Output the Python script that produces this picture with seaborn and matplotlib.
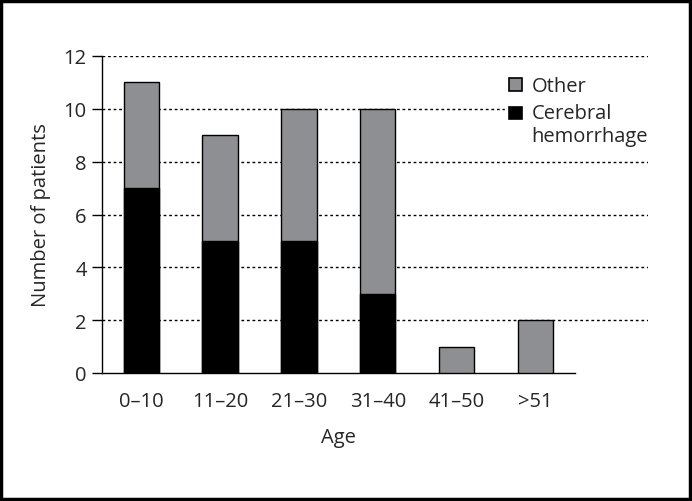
import matplotlib
matplotlib.use("Agg")
import matplotlib.pyplot as plt
import seaborn as sns
import pandas as pd
from matplotlib.patches import Patch, Rectangle
from matplotlib.legend_handler import HandlerPatch
from matplotlib.ticker import FixedLocator, NullFormatter, FixedFormatter

ages = ["0–10", "11–20", "21–30", "31–40", "41–50", ">51"]
cerebral = [7, 5, 5, 3, 0, 0]
other = [4, 4, 5, 7, 1, 2]
yticks = [0, 2, 4, 6, 8, 10, 12]

sns.set_style("white")
plt.rcParams["font.family"] = ["Open Sans", "DejaVu Sans"]
FS = 14.5

total = [c + o for c, o in zip(cerebral, other)]
df = pd.DataFrame({"Age": ages, "Cerebral": cerebral, "Total": total})

fig = plt.figure(figsize=(6.92, 5.02), dpi=100)
ax = fig.add_axes([102 / 692, 1 - 374 / 502, (648 - 102) / 692, (374 - 57) / 502])

gray = "#8e8f92"
sns.barplot(data=df, x="Age", y="Total", color=gray, edgecolor="black",
            linewidth=1.0, width=0.45, ax=ax, saturation=1, zorder=3)
sns.barplot(data=df[df["Cerebral"] > 0], x="Age", y="Cerebral", color="black",
            edgecolor="black", linewidth=1.0, width=0.45, ax=ax, saturation=1,
            order=ages, zorder=4)

ax.set_ylim(0, 12)
ax.set_xlim(-0.5, 6.43)
ax.set_yticks(yticks)
ax.set_yticklabels([str(t) for t in yticks], fontsize=FS)
for t in yticks[1:]:
    ax.axhline(t, color="black", linestyle=(0, (2, 2)), linewidth=1.0, zorder=1)

# x ticks at boundaries, labels at centres
ax.xaxis.set_major_locator(FixedLocator([i - 0.5 for i in range(len(ages) + 1)]))
ax.xaxis.set_major_formatter(NullFormatter())
ax.xaxis.set_minor_locator(FixedLocator(list(range(len(ages)))))
ax.xaxis.set_minor_formatter(FixedFormatter(ages))
ax.tick_params(axis="x", which="major", direction="out", length=8, width=1.0, color="black")
ax.tick_params(axis="x", which="minor", length=0, labelsize=FS, pad=13)
ax.tick_params(axis="y", direction="out", length=7, width=1.0, color="black",
               labelsize=FS, pad=4, left=True)

for s in ["top", "right"]:
    ax.spines[s].set_visible(False)
ax.spines["left"].set_color("black")
ax.spines["bottom"].set_color("black")
ax.spines["left"].set_linewidth(1.0)
ax.spines["bottom"].set_linewidth(1.0)
ax.spines["bottom"].set_bounds(-0.5, 5.5)

ax.set_xlabel("Age", fontsize=FS)
ax.xaxis.set_label_coords((338 - 102) / 546, -0.17)
ax.set_ylabel("Number of patients", fontsize=FS)
ax.yaxis.set_label_coords(-(102 - 51) / 546, 0.5)


class SquareHandler(HandlerPatch):
    def __init__(self, shift=0.0, **kw):
        super().__init__(**kw)
        self.shift = shift

    def create_artists(self, legend, orig_handle, xdescent, ydescent,
                       width, height, fontsize, trans):
        side = 0.62 * fontsize
        y0 = -ydescent + (height - side) / 2 + self.shift * fontsize
        p = Rectangle((-xdescent, y0), side, side,
                      facecolor=orig_handle.get_facecolor(),
                      edgecolor="black", linewidth=1.2)
        p.set_transform(trans)
        return [p]


h_other = Patch(facecolor=gray, edgecolor="black")
h_cer = Patch(facecolor="black", edgecolor="black")
leg = ax.legend([h_other, h_cer], ["Other", "Cerebral\nhemorrhage"], loc="upper left",
                bbox_to_anchor=(0.72, 0.98), frameon=True, fancybox=False,
                edgecolor="white", facecolor="white", framealpha=1,
                fontsize=FS, handlelength=0.75, handleheight=0.75,
                handletextpad=0.35, labelspacing=0.35, borderpad=0.2,
                handler_map={h_other: SquareHandler(0.0),
                             h_cer: SquareHandler(0.62)})
leg.set_zorder(5)

fig.patches.append(Rectangle((0.002, 0.003), 0.995, 0.994, transform=fig.transFigure,
                             fill=False, edgecolor="black", linewidth=2.5))

fig.savefig("out.png", dpi=100)
